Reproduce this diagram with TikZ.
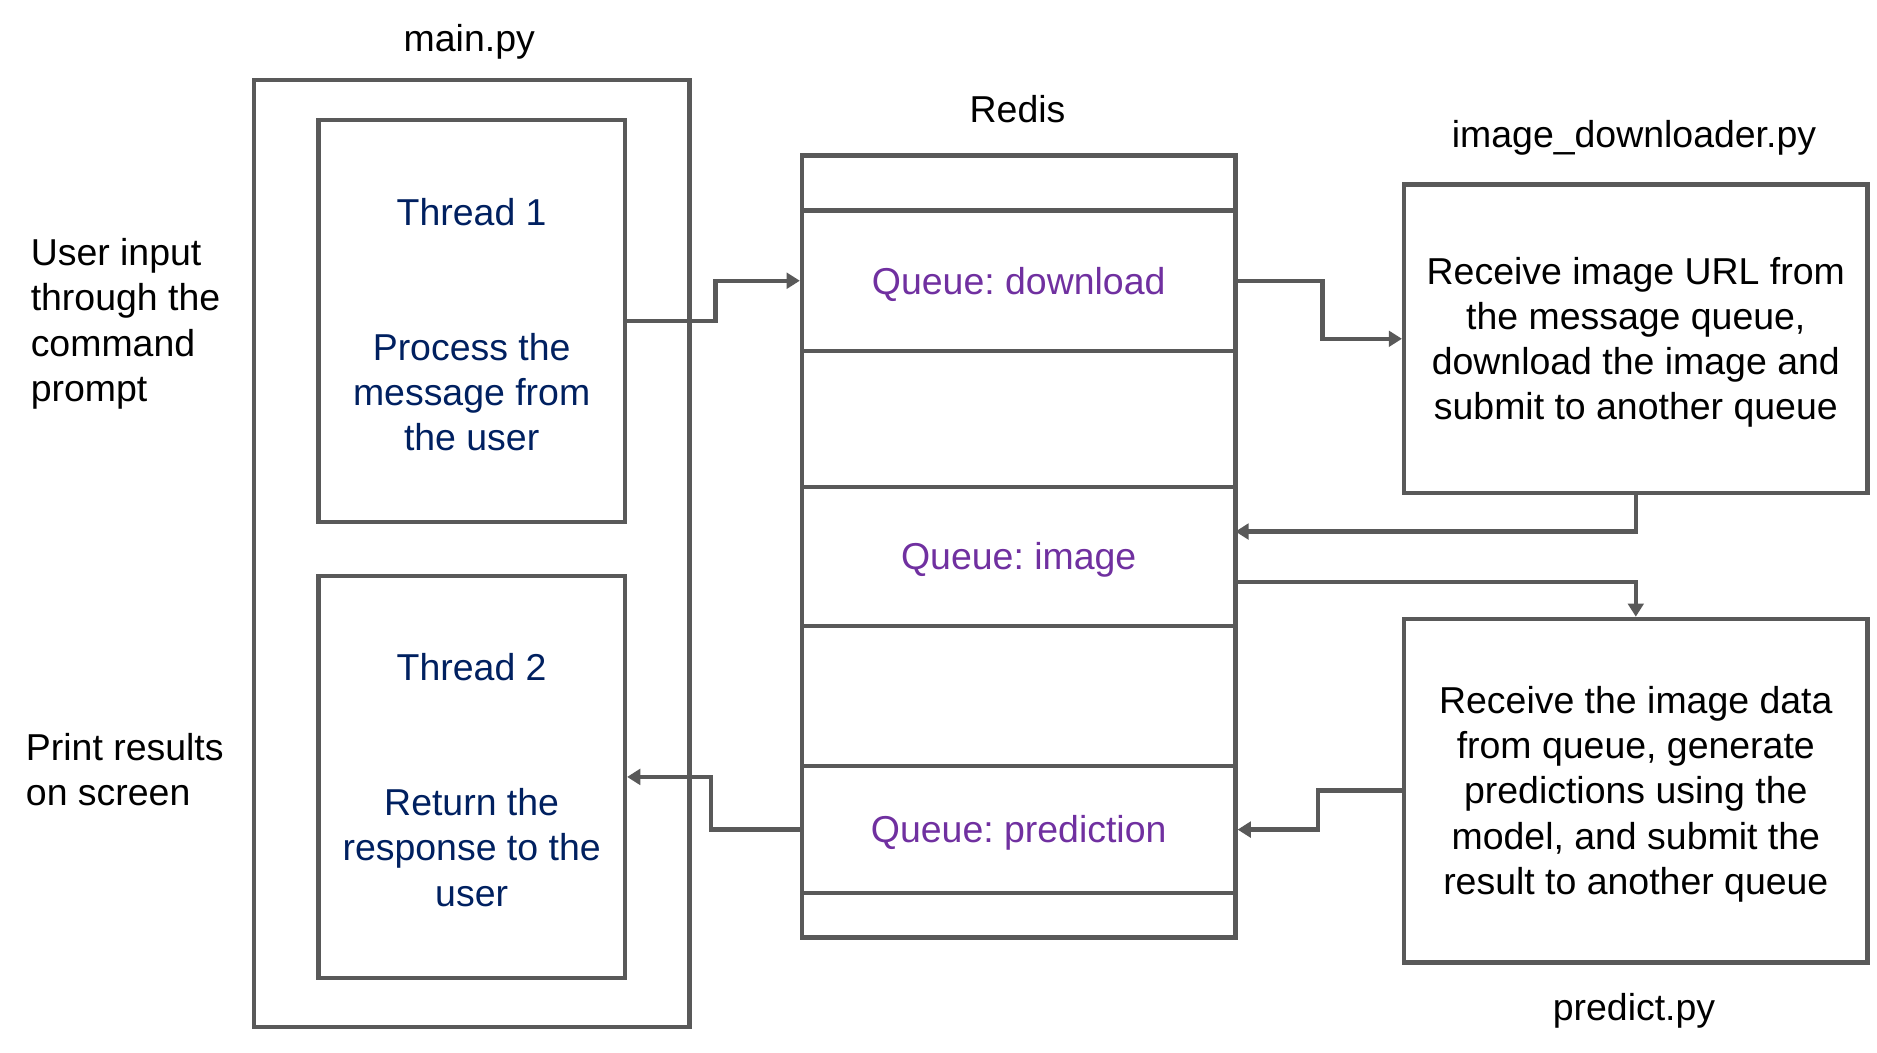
\documentclass[tikz,border=0pt]{standalone}
\usepackage{fontspec}
\setmainfont{Liberation Sans}
\usetikzlibrary{arrows.meta}
\frenchspacing
\definecolor{linegray}{HTML}{595959}
\definecolor{threadblue}{HTML}{002060}
\definecolor{queuepurple}{HTML}{7030A0}
\tikzset{
	box/.style = {draw = linegray, line width = 1.05pt, rectangle, inner sep = 0pt},
	txt/.style = {font = \fontsize{8.9}{10.73}\selectfont, align = center, inner sep = 0pt, yshift = -0.03cm},
	arr/.style = {draw = linegray, line width = 1.05pt, -{Triangle[length = 0.11cm, width = 0.13cm]}}
}
\begin{document}
\begin{tikzpicture}
	\useasboundingbox (0, 0) rectangle (15.68, -8.79);

	\coordinate (imgin) at (10.32, -4.44);
	\coordinate (imgout) at (10.32, -4.86);

	\node [box, minimum width = 3.64cm, minimum height = 7.91cm] (main) at (3.94, -4.625) {};
	\node [box, minimum width = 2.56cm, minimum height = 3.36cm] (t1) at (3.94, -2.68) {};
	\node [box, minimum width = 2.56cm, minimum height = 3.36cm] (t2) at (3.94, -6.49) {};

	\node [box, minimum width = 3.62cm, minimum height = 6.53cm] (redis) at (8.51, -4.565) {};
	\node [box, minimum width = 3.62cm, minimum height = 1.17cm] (dl) at (8.51, -2.345) {};
	\node [box, minimum width = 3.62cm, minimum height = 1.16cm] (img) at (8.51, -4.65) {};
	\node [box, minimum width = 3.62cm, minimum height = 1.06cm] (pr) at (8.51, -6.93) {};

	\node [box, minimum width = 3.87cm, minimum height = 2.58cm] (down) at (13.665, -2.83) {};
	\node [box, minimum width = 3.87cm, minimum height = 2.87cm] (pred) at (13.665, -6.605) {};

	\node [txt] (mainlbl) at (3.92, -0.32) {main.py};
	\node [txt] (redislbl) at (8.50, -0.88) {Redis};
	\node [txt] (downlbl) at (13.65, -1.12) {image\_downloader.py};
	\node [txt] (predlbl) at (13.65, -8.41) {predict.py};

	\node [txt, align = left, anchor = west] (input) at (0.25, -2.675) {User input\\through the\\command\\prompt};
	\node [txt, align = left, anchor = west] (print) at (0.21, -6.40) {Print results\\on screen};

	\node [txt, text = threadblue] (t1title) at (3.94, -1.74) {Thread 1};
	\node [txt, text = threadblue] (t1text) at (3.94, -3.245) {Process the\\message from\\the user};
	\node [txt, text = threadblue] (t2title) at (3.94, -5.54) {Thread 2};
	\node [txt, text = threadblue] (t2text) at (3.94, -7.05) {Return the\\response to the\\user};

	\node [txt, text = queuepurple] at (dl) {Queue: download};
	\node [txt, text = queuepurple] at (img) {Queue: image};
	\node [txt, text = queuepurple] at (pr) {Queue: prediction};

	\node [txt] (downtext) at (down) {Receive image URL from\\the message queue,\\download the image and\\submit to another queue};
	\node [txt] (predtext) at (pred) {Receive the image data\\from queue, generate\\predictions using the\\model, and submit the\\result to another queue};

	\draw [arr] (t1.east) -- ++(0.74, 0) |- (dl.west);
	\draw [arr] (dl.east) -- ++(0.71, 0) |- (down.west);
	\draw [arr] (down.south) |- (imgin);
	\draw [arr] (imgout) -| (pred.north);
	\draw [arr] (pred.west) -- ++(-0.70, 0) |- (pr.east);
	\draw [arr] (pr.west) -- ++(-0.74, 0) |- (t2.east);
\end{tikzpicture}
\end{document}
